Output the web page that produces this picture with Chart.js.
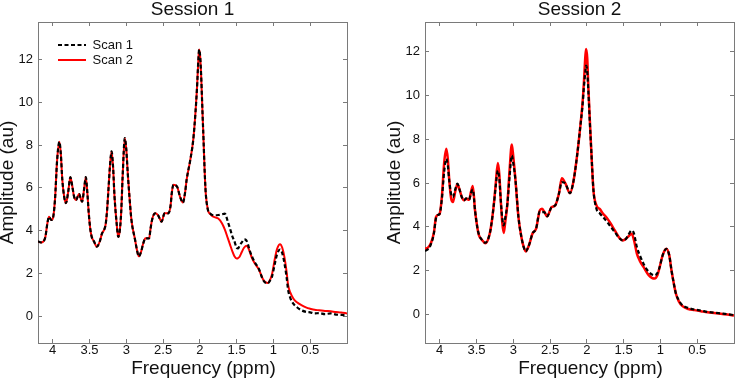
<!DOCTYPE html>
<html>
<head>
<meta charset="utf-8">
<script src="https://cdn.jsdelivr.net/npm/chart.js@4/dist/chart.umd.min.js"></script>
<style>
  html, body { margin: 0; padding: 0; background: #fff; overflow: hidden; }
  body { width: 738px; height: 380px; position: relative; }
  .panel { position: absolute; top: 0; width: 368px; height: 380px; }
  #p1 { left: -17px; }
  #p2 { left: 370px; }
</style>
</head>
<body>
<div class="panel" id="p1"><canvas id="c1"></canvas></div>
<div class="panel" id="p2"><canvas id="c2"></canvas></div>
<script>
// ---------- data ----------
const panelTitles = ['Session 1', 'Session 2'];
const seriesNames = ['Scan 1', 'Scan 2'];
const xTitle = 'Frequency (ppm)';
const yTitle = 'Amplitude (au)';
const xTickStep = 0.5;
const yTickStep = 2;

// Session 1
const ppm1 = [4.20,4.16,4.13,4.10,4.07,4.05,4.02,4.00,3.97,3.94,3.91,3.89,3.87,3.845,3.82,3.79,3.76,3.735,3.71,3.68,3.66,3.64,3.62,3.60,3.575,3.55,3.53,3.51,3.49,3.47,3.44,3.40,3.36,3.33,3.30,3.28,3.26,3.24,3.22,3.20,3.18,3.16,3.13,3.11,3.09,3.07,3.05,3.02,3.00,2.98,2.955,2.93,2.88,2.855,2.83,2.80,2.77,2.74,2.69,2.67,2.65,2.61,2.57,2.52,2.48,2.43,2.40,2.38,2.36,2.31,2.27,2.23,2.20,2.18,2.13,2.09,2.06,2.04,2.02,2.01,1.995,1.98,1.965,1.95,1.935,1.92,1.89,1.86,1.83,1.79,1.75,1.70,1.66,1.62,1.59,1.56,1.53,1.50,1.48,1.46,1.43,1.40,1.37,1.35,1.32,1.29,1.25,1.20,1.14,1.08,1.04,1.02,0.98,0.95,0.91,0.88,0.85,0.82,0.80,0.77,0.73,0.68,0.62,0.55,0.50,0.44,0.38,0.30,0.22,0.15,0.08,0.00];
const s1scan1 = [3.50,3.45,3.48,3.70,4.40,4.65,4.50,4.55,5.40,7.30,8.15,7.60,6.40,5.60,5.28,5.80,6.50,6.10,5.60,5.43,5.60,5.71,5.50,5.35,5.90,6.50,5.80,4.81,4.10,3.71,3.50,3.25,3.50,3.87,4.05,4.30,5.00,6.06,7.10,7.70,7.00,5.59,4.30,3.71,3.95,4.81,6.50,8.32,7.80,6.68,5.50,4.50,3.56,3.10,2.80,3.00,3.40,3.64,3.64,4.10,4.50,4.81,4.73,4.42,4.81,4.81,5.12,5.80,6.14,6.06,5.59,5.31,5.80,6.37,7.31,8.24,9.50,10.59,12.00,12.46,12.10,11.05,9.60,8.24,6.80,5.75,4.96,4.80,4.73,4.72,4.73,4.76,4.80,4.42,4.10,3.75,3.50,3.20,3.17,3.30,3.45,3.59,3.55,3.40,3.05,2.78,2.50,2.23,1.69,1.53,1.70,1.84,2.47,2.90,3.12,2.95,2.47,1.80,1.22,0.85,0.59,0.42,0.28,0.20,0.18,0.13,0.15,0.10,0.13,0.08,0.06,0.05];
const s1scan2 = [3.50,3.45,3.48,3.70,4.40,4.65,4.50,4.55,5.40,7.30,8.15,7.60,6.40,5.60,5.28,5.80,6.50,6.10,5.60,5.43,5.60,5.71,5.50,5.35,5.90,6.50,5.80,4.81,4.10,3.71,3.50,3.25,3.50,3.87,4.05,4.30,5.00,6.06,7.10,7.70,7.00,5.59,4.30,3.71,3.95,4.81,6.50,8.32,7.80,6.68,5.50,4.50,3.56,3.10,2.80,3.00,3.40,3.64,3.64,4.10,4.50,4.81,4.73,4.42,4.81,4.81,5.12,5.80,6.14,6.06,5.59,5.31,5.80,6.37,7.31,8.24,9.50,10.59,12.00,12.46,12.10,11.05,9.60,8.24,6.80,5.75,4.96,4.78,4.68,4.62,4.57,4.35,4.05,3.65,3.35,3.05,2.80,2.70,2.72,2.78,3.00,3.20,3.30,3.25,3.00,2.70,2.45,2.20,1.72,1.55,1.75,1.95,2.70,3.15,3.37,3.20,2.75,2.05,1.45,1.10,0.83,0.65,0.52,0.40,0.35,0.30,0.28,0.25,0.23,0.20,0.18,0.13];

// Session 2
const ppm2 = [4.20,4.16,4.12,4.08,4.05,4.02,4.00,3.97,3.94,3.91,3.89,3.87,3.845,3.82,3.79,3.76,3.73,3.70,3.67,3.64,3.60,3.575,3.55,3.52,3.49,3.47,3.42,3.38,3.32,3.29,3.265,3.24,3.21,3.19,3.17,3.15,3.13,3.11,3.08,3.05,3.02,3.00,2.97,2.93,2.89,2.86,2.83,2.80,2.78,2.74,2.69,2.64,2.61,2.58,2.54,2.48,2.43,2.38,2.34,2.29,2.23,2.18,2.13,2.09,2.06,2.04,2.02,2.01,1.995,1.98,1.96,1.94,1.91,1.87,1.82,1.78,1.73,1.69,1.62,1.55,1.51,1.47,1.44,1.39,1.36,1.32,1.28,1.23,1.16,1.08,1.04,1.01,0.97,0.92,0.88,0.85,0.82,0.79,0.75,0.70,0.62,0.54,0.45,0.36,0.27,0.18,0.09,0.00];
const s2scan1 = [2.90,2.98,3.20,3.69,4.40,4.55,4.60,5.30,6.50,7.10,6.80,6.10,5.50,5.36,5.70,5.97,5.70,5.36,5.21,5.30,5.24,5.55,5.70,4.75,4.00,3.69,3.38,3.28,3.69,4.30,5.00,5.81,6.57,6.20,5.21,4.40,4.07,4.40,5.06,6.30,7.26,6.90,6.12,4.45,3.54,3.10,2.88,3.05,3.23,3.69,3.92,4.70,4.67,4.67,4.48,4.90,4.98,5.51,6.04,5.97,5.54,6.12,7.33,8.55,9.50,10.37,11.10,11.36,11.10,10.22,8.80,7.49,5.66,4.83,4.60,4.45,4.25,4.07,3.76,3.46,3.38,3.45,3.61,3.84,3.70,3.08,2.70,2.32,1.95,1.79,1.90,2.17,2.70,3.00,2.70,2.02,1.45,0.96,0.65,0.42,0.30,0.23,0.18,0.12,0.08,0.05,0.02,-0.03];
const s2scan2 = [3.00,3.05,3.25,3.72,4.45,4.55,4.60,5.40,6.90,7.56,7.10,6.12,5.30,5.13,5.60,5.95,5.70,5.36,5.21,5.28,5.24,5.60,5.86,4.75,4.00,3.65,3.38,3.25,3.69,4.30,5.00,5.90,6.91,6.40,5.21,4.20,3.72,4.20,5.06,6.60,7.76,7.20,6.12,4.45,3.54,3.10,2.88,3.05,3.23,3.69,3.92,4.75,4.83,4.70,4.48,4.90,4.98,5.51,6.22,5.97,5.54,6.12,7.33,8.55,9.60,10.60,11.80,12.12,11.70,10.40,8.90,7.49,5.66,4.98,4.80,4.60,4.42,4.22,3.84,3.46,3.38,3.45,3.55,3.69,3.40,2.78,2.45,2.17,1.80,1.64,1.80,2.17,2.70,3.00,2.70,2.02,1.45,0.96,0.60,0.38,0.25,0.20,0.15,0.10,0.07,0.04,0.00,-0.05];

const xRange = [0, 4.2];
const yRange1 = [-1.25, 13.75];
const yRange2 = [-1.3, 13.35];

// ---------- styling ----------
const FONT = "'Liberation Sans', Arial, Helvetica, sans-serif";
const TXT = '#111111';
const AXC = '#7a7a7a';

function pts(xs, ys) { return xs.map((x, i) => ({ x: x, y: ys[i] })); }

function fixSize(prop, val) { return (s) => { s[prop] = val; }; }

function makeScales(yr) {
  const xCommon = {
    type: 'linear', reverse: true, min: xRange[0], max: xRange[1],
    grid: { drawOnChartArea: false, drawTicks: true, tickLength: -4, color: AXC, lineWidth: 1 },
    border: { display: true, color: AXC, width: 1 }
  };
  const yCommon = {
    type: 'linear', min: yr[0], max: yr[1],
    grid: { drawOnChartArea: false, drawTicks: true, tickLength: -4, color: AXC, lineWidth: 1 },
    border: { display: true, color: AXC, width: 1 }
  };
  return {
    x: Object.assign({}, xCommon, {
      position: 'bottom',
      ticks: { stepSize: xTickStep, includeBounds: false, padding: 4, color: TXT, maxRotation: 0,
               font: { family: FONT, size: 13 },
               callback: (v) => (v === 0 ? '' : String(v)) },
      title: { display: true, text: xTitle, color: TXT, font: { family: FONT, size: 19 }, padding: { top: 0, bottom: 0 } },
      afterFit: fixSize('height', 37)
    }),
    x2: Object.assign({}, xCommon, {
      position: 'top', axis: 'x',
      ticks: { stepSize: xTickStep, includeBounds: false, display: false },
      afterFit: fixSize('height', 0)
    }),
    y: Object.assign({}, yCommon, {
      position: 'left',
      ticks: { stepSize: yTickStep, includeBounds: false, padding: 9, color: TXT, font: { family: FONT, size: 13 } },
      title: { display: true, text: yTitle, color: TXT, font: { family: FONT, size: 19 }, padding: { top: 13.6, bottom: 0 } },
      afterFit: fixSize('width', 55)
    }),
    y2: Object.assign({}, yCommon, {
      position: 'right', axis: 'y',
      ticks: { stepSize: yTickStep, includeBounds: false, display: false },
      afterFit: fixSize('width', 0)
    })
  };
}

// places the legend in the top-left corner of the plot area
const legendOffset = {
  id: 'legendOffset',
  afterLayout(chart) {
    const lg = chart.legend;
    if (!lg || !lg.options.display) return;
    const ca = chart.chartArea;
    const w = lg.width, h = lg.height;
    lg.left = ca.left + 18;
    lg.top = ca.top + 14.5;
    lg.right = lg.left + w;
    lg.bottom = lg.top + h;
  }
};

// the x-axis label sits slightly right of the plot centre in the original
const xTitleShift = {
  id: 'xTitleShift',
  beforeDraw(chart) {
    const s = chart.scales.x;
    if (!s || s._shiftWrapped) return;
    const orig = s.drawTitle.bind(s);
    s.drawTitle = function () {
      const ctx = this.ctx;
      ctx.save();
      ctx.translate(11, 0);
      orig();
      ctx.restore();
    };
    s._shiftWrapped = true;
  }
};

function makeChart(id, title, xs, a, b, yr, showLegend, redWidth) {
  return new Chart(document.getElementById(id), {
    type: 'line',
    data: {
      datasets: [
        { label: seriesNames[0], data: pts(xs, a), borderColor: '#000000', backgroundColor: 'rgba(0,0,0,0)',
          borderWidth: 2.2, borderDash: [4, 2.5], pointRadius: 0, cubicInterpolationMode: 'monotone', fill: false },
        { label: seriesNames[1], data: pts(xs, b), borderColor: '#ff0000', backgroundColor: 'rgba(0,0,0,0)',
          borderWidth: redWidth, pointRadius: 0, cubicInterpolationMode: 'monotone', fill: false }
      ]
    },
    options: {
      responsive: true, maintainAspectRatio: false, animation: false, devicePixelRatio: 1,
      layout: { padding: { left: 0, right: 1, top: 0, bottom: 0 } },
      scales: makeScales(yr),
      plugins: {
        title: { display: true, text: title, fullSize: false, color: TXT,
                 font: { family: FONT, size: 19, weight: 'normal', lineHeight: 1.0 },
                 padding: { top: 0, bottom: 3 } },
        legend: {
          display: showLegend, position: 'chartArea', align: 'start',
          labels: { usePointStyle: false, boxWidth: 28, boxHeight: 0,
                    padding: 2, color: TXT, font: { family: FONT, size: 13 } }
        },
        tooltip: { enabled: false }
      }
    },
    plugins: [legendOffset, xTitleShift]
  });
}

makeChart('c1', panelTitles[0], ppm1, s1scan1, s1scan2, yRange1, true, 2);
makeChart('c2', panelTitles[1], ppm2, s2scan1, s2scan2, yRange2, false, 2.5);
</script>
</body>
</html>
